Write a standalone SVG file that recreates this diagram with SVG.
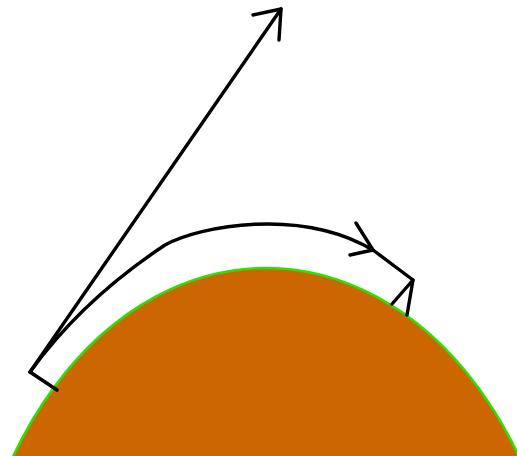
<svg xmlns="http://www.w3.org/2000/svg" width="517" height="456" viewBox="0 0 517 456">
<style>
.ln{fill:none;stroke:#000;stroke-width:3.4;stroke-linecap:round;stroke-linejoin:round}
</style>
<rect width="517" height="456" fill="#fff"/>
<g id="dome">
<ellipse cx="266" cy="676" rx="300" ry="408" fill="#CC6600" stroke="#2EE000" stroke-width="2.5"/>
</g>
<g id="connectors">
<path class="ln" d="M57,390 L30,372 L281,9"/>
<path class="ln" d="M253,15 L281,9 L279,40"/>
<path class="ln" d="M30,372 Q82,300 165,245 C200,226 300,207 373,250 L413,280"/>
<path class="ln" d="M356,223 L373,250 L350,255"/>
<path class="ln" d="M392,304 L413,280 L407,315"/>
</g>
</svg>
